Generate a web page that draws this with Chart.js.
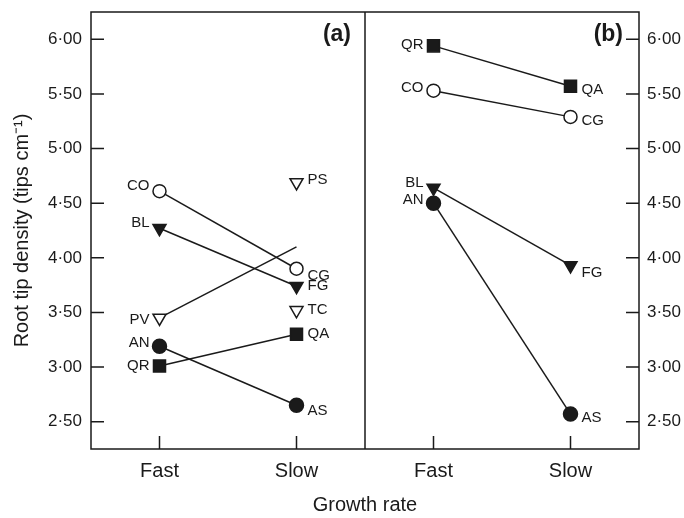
<!DOCTYPE html>
<html>
<head>
<meta charset="utf-8">
<script src="https://cdn.jsdelivr.net/npm/chart.js@4/dist/chart.umd.min.js"></script>
<style>
  body { margin: 0; background: #fff; }
  #wrap { width: 684px; height: 518px; }
</style>
</head>
<body>
<div id="wrap"><canvas id="rootChart"></canvas></div>
<script>
// categories: panel (a) then panel (b)
const growthRates = ["Fast", "Slow", "Fast", "Slow"];
const yTicks = [2.5, 3, 3.5, 4, 4.5, 5, 5.5, 6];

// values (Fast a, Slow a, Fast b, Slow b)
const qrQa = [3.01, 3.3, 5.94, 5.57];
const coCg = [4.61, 3.9, 5.53, 5.29];
const blFg = [4.27, 3.74, 4.64, 3.93];
const anAs = [3.19, 2.65, 4.5, 2.57];
const pvLine = [3.45, 4.1, null, null];
const psPoint = [null, 4.69, null, null];
const tcPoint = [null, 3.52, null, null];

// names written next to the points
const qrQaNames = ["QR", "QA", "QR", "QA"];
const coCgNames = ["CO", "CG", "CO", "CG"];
const blFgNames = ["BL", "FG", "BL", "FG"];
const anAsNames = ["AN", "AS", "AN", "AS"];
const pvNames = ["PV", null, null, null];
const psNames = [null, "PS", null, null];
const tcNames = [null, "TC", null, null];

const ink = "#1a1a1a";
const fontFamily = "'Liberation Sans', Arial, Helvetica, sans-serif";

// ne pas relier le point Slow (a) au point Fast (b)
const splitPanels = {
  borderColor: (ctx) => (ctx.p0DataIndex === 1 ? "transparent" : undefined),
};

function serie(data, names, style, labelDy) {
  return Object.assign(
    {
      data: data,
      names: names,
      labelDy: labelDy,
      borderColor: ink,
      borderWidth: 1.5,
      pointBorderColor: ink,
      pointBorderWidth: 1.5,
      spanGaps: false,
      segment: splitPanels,
    },
    style
  );
}

const filledCircle = { pointStyle: "circle", pointRadius: 7, pointBackgroundColor: ink };
const openCircle = { pointStyle: "circle", pointRadius: 6.5, pointBackgroundColor: "#fff" };
const filledSquare = { pointStyle: "rect", pointRadius: 8.5, pointBackgroundColor: ink };
const filledTriangle = { pointStyle: "triangle", pointRadius: 7.5, pointRotation: 180, pointBackgroundColor: ink };
const openTriangle = { pointStyle: "triangle", pointRadius: 7.5, pointRotation: 180, pointBackgroundColor: "#fff" };

const datasets = [
  serie(pvLine, pvNames, Object.assign({}, openTriangle, { pointRadius: [7.5, 0, 0, 0] }), [2, 0, 0, 0]),
  serie(qrQa, qrQaNames, filledSquare, [0, 0, -1, 4]),
  serie(anAs, anAsNames, filledCircle, [-3, 6, -3, 4]),
  serie(blFg, blFgNames, filledTriangle, [-5, 0, -5, 7]),
  serie(coCg, coCgNames, openCircle, [-5, 7, -3, 4]),
  serie(psPoint, psNames, openTriangle, [0, -3, 0, 0]),
  serie(tcPoint, tcNames, openTriangle, [0, 0, 0, 0]),
];

// cadre, tirets vers l'intérieur, séparation des panneaux, noms des points
const frameAndLabels = {
  id: "frameAndLabels",
  afterDatasetsDraw(chart) {
    const { ctx, chartArea: area, scales } = chart;
    const x = scales.x;
    const y = scales.y;
    const tick = 13;
    ctx.save();
    ctx.strokeStyle = ink;
    ctx.lineWidth = 1.5;
    ctx.strokeRect(area.left, area.top, area.right - area.left, area.bottom - area.top);

    const mid = (x.getPixelForValue(1) + x.getPixelForValue(2)) / 2;
    ctx.beginPath();
    ctx.moveTo(mid, area.top);
    ctx.lineTo(mid, area.bottom);
    yTicks.forEach((v) => {
      const py = y.getPixelForValue(v);
      ctx.moveTo(area.left, py);
      ctx.lineTo(area.left + tick, py);
      ctx.moveTo(area.right, py);
      ctx.lineTo(area.right - tick, py);
    });
    growthRates.forEach((g, i) => {
      const px = x.getPixelForValue(i);
      ctx.moveTo(px, area.bottom);
      ctx.lineTo(px, area.bottom - tick);
    });
    ctx.stroke();

    ctx.fillStyle = ink;
    ctx.font = "bold 23px " + fontFamily;
    ctx.textAlign = "right";
    ctx.textBaseline = "middle";
    ctx.fillText("(a)", mid - 14, area.top + 23);
    ctx.fillText("(b)", area.right - 16, area.top + 23);

    ctx.font = "15px " + fontFamily;
    chart.data.datasets.forEach((ds, di) => {
      const meta = chart.getDatasetMeta(di);
      meta.data.forEach((pt, i) => {
        const name = ds.names[i];
        if (!name || ds.data[i] == null) return;
        const isFast = i % 2 === 0;
        ctx.textAlign = isFast ? "right" : "left";
        const px = isFast ? pt.x - 10 : pt.x + 11;
        ctx.fillText(name, px, pt.y + ds.labelDy[i]);
      });
    });
    ctx.restore();
  },
};

const tickFormat = (v) => Number(v).toFixed(2).replace(".", "·");

const ctx = document.getElementById("rootChart").getContext("2d");
const rootChart = new Chart(ctx, {
  type: "line",
  data: { labels: growthRates, datasets: datasets },
  plugins: [frameAndLabels],
  options: {
    responsive: true,
    maintainAspectRatio: false,
    animation: false,
    layout: { padding: { top: 12, right: 0, left: 0, bottom: 0 } },
    plugins: {
      legend: { display: false },
      tooltip: { enabled: false },
    },
    scales: {
      x: {
        type: "category",
        offset: true,
        grid: { display: false, drawTicks: false },
        border: { display: false },
        ticks: { color: ink, padding: 10, font: { family: fontFamily, size: 20 } },
        title: {
          display: true,
          text: "Growth rate",
          color: ink,
          padding: { top: 0, bottom: 1 },
          font: { family: fontFamily, size: 20 },
        },
        afterFit: (scale) => {
          scale.height = 69;
        },
      },
      y: {
        position: "left",
        min: 2.25,
        max: 6.25,
        grid: { display: false, drawTicks: false },
        border: { display: false },
        afterBuildTicks: (scale) => {
          scale.ticks = yTicks.map((v) => ({ value: v }));
        },
        ticks: { color: ink, padding: 9, callback: tickFormat, font: { family: fontFamily, size: 17 } },
        title: {
          display: true,
          text: "Root tip density (tips cm⁻¹)",
          color: ink,
          padding: { top: 10, bottom: 0 },
          font: { family: fontFamily, size: 20 },
        },
        afterFit: (scale) => {
          scale.width = 91;
          scale.paddingTop = 0;
          scale.paddingBottom = 0;
        },
      },
      y2: {
        position: "right",
        min: 2.25,
        max: 6.25,
        grid: { display: false, drawTicks: false },
        border: { display: false },
        afterBuildTicks: (scale) => {
          scale.ticks = yTicks.map((v) => ({ value: v }));
        },
        ticks: { color: ink, padding: 8, callback: tickFormat, font: { family: fontFamily, size: 17 } },
        afterFit: (scale) => {
          scale.width = 45;
          scale.paddingTop = 0;
          scale.paddingBottom = 0;
        },
      },
    },
  },
});
</script>
</body>
</html>
